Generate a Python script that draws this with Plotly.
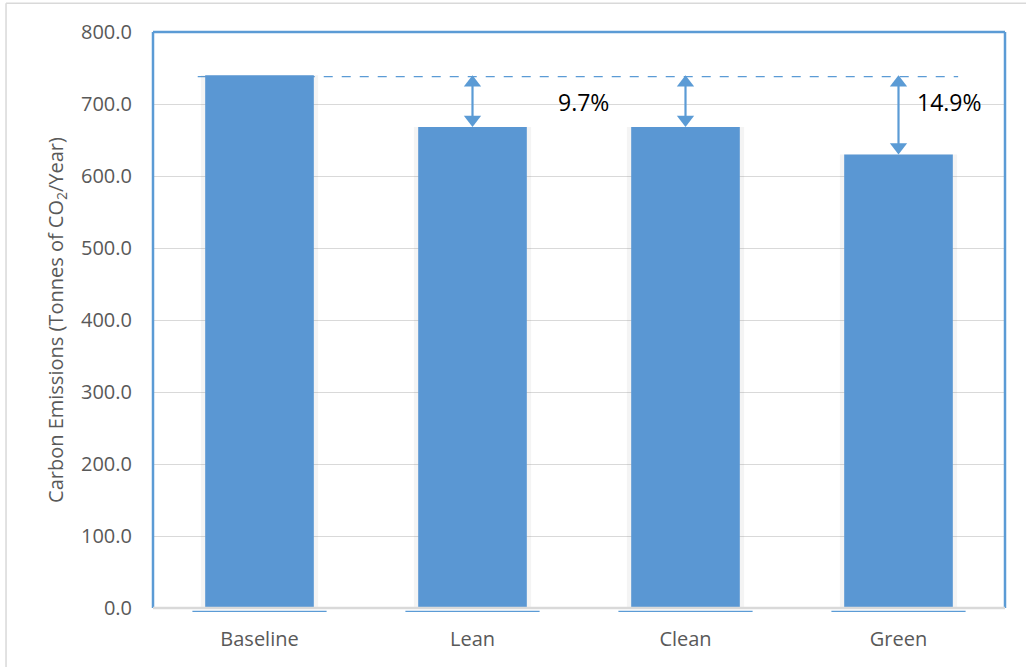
import plotly.graph_objects as go

# Annual carbon emissions per scenario
scenarios = ["Baseline", "Lean", "Clean", "Green"]
emissions = [740.0, 668.0, 668.0, 630.0]

# Scenarios that get a reduction arrow, and those that also get a % label
arrow_scenarios = ["Lean", "Clean", "Green"]
labelled_scenarios = ["Lean", "Green"]

y_ticks = [0, 100, 200, 300, 400, 500, 600, 700, 800]
y_tick_text = [f"{v:.1f}" for v in y_ticks]

BLUE = "#5B9BD5"
BAR = "#5A97D3"
GREY_TXT = "#595959"
GRID = "#D9D9D9"
FONT = "Open Sans"

baseline = emissions[0]

# pixel-to-data scale of the value axis (576 px for 800 units)
PX = 800 / 576
HEAD = 15            # arrow-head marker size (px)
HEAD_R = HEAD / 2    # distance from triangle centre to its tip (px)

fig = go.Figure()

# soft shadow behind each bar
fig.add_trace(go.Bar(
    x=scenarios, y=emissions, width=0.55,
    marker=dict(color="rgba(120,120,120,0.08)", line=dict(width=0)),
    hoverinfo="skip", showlegend=False,
))
fig.add_trace(go.Bar(
    x=scenarios, y=emissions, width=0.51,
    marker=dict(color=BAR, line=dict(width=0)),
    showlegend=False,
))

# double-headed reduction arrows between the baseline level and each bar
for name in arrow_scenarios:
    val = emissions[scenarios.index(name)]
    fig.add_trace(go.Scatter(
        x=[name, name], y=[val + HEAD_R * PX, baseline - HEAD_R * PX],
        mode="lines", line=dict(color=BLUE, width=2.2),
        hoverinfo="skip", showlegend=False, cliponaxis=False,
    ))
    fig.add_trace(go.Scatter(
        x=[name, name], y=[baseline - HEAD_R * PX, val + HEAD_R * PX],
        mode="markers",
        marker=dict(symbol=["triangle-up", "triangle-down"], size=HEAD,
                    color=BLUE, line=dict(width=0)),
        hoverinfo="skip", showlegend=False, cliponaxis=False,
    ))

shapes = []
# plot-area frame: blue on left, top and right
for x0, y0, x1, y1 in [(0, 0, 0, 1), (0, 1, 1, 1), (1, 0, 1, 1)]:
    shapes.append(dict(type="line", xref="paper", yref="paper",
                       x0=x0, y0=y0, x1=x1, y1=y1,
                       line=dict(color=BLUE, width=2.5), layer="above"))
# category axis line
shapes.append(dict(type="line", xref="paper", yref="paper",
                   x0=0, y0=0, x1=1, y1=0,
                   line=dict(color=GRID, width=2.5), layer="above"))
# thin blue edge under each bar
for i in range(len(scenarios)):
    shapes.append(dict(type="line", xref="x", yref="paper",
                       x0=i - 0.315, x1=i + 0.315, y0=-0.006, y1=-0.006,
                       line=dict(color=BLUE, width=1.2)))
# dashed reference line at the baseline level
shapes.append(dict(type="line", xref="x", yref="y",
                   x0=-0.29, x1=3.28, y0=baseline - 2, y1=baseline - 2,
                   line=dict(color=BLUE, width=1.2, dash="dash"), layer="below"))
# outer chart frame (left and top)
shapes.append(dict(type="line", xref="paper", yref="paper",
                   x0=-0.1725, x1=1.03, y0=1.05, y1=1.05,
                   line=dict(color="#D9D9D9", width=1.5)))
shapes.append(dict(type="line", xref="paper", yref="paper",
                   x0=-0.1725, x1=-0.1725, y0=1.05, y1=-0.11,
                   line=dict(color="#D9D9D9", width=1.5)))

annotations = []
label_offsets = {"Lean": 0.52, "Green": 0.24}
for name in labelled_scenarios:
    i = scenarios.index(name)
    pct = (baseline - emissions[i]) / baseline * 100
    annotations.append(dict(
        x=i + label_offsets[name], y=703, xref="x", yref="y",
        text=f"{pct:.1f}%", showarrow=False,
        font=dict(family=FONT, size=23, color="#000000"),
    ))

fig.update_layout(
    width=1026, height=667,
    margin=dict(l=153, r=21, t=32, b=59),
    paper_bgcolor="white", plot_bgcolor="white",
    barmode="overlay",
    font=dict(family=FONT, color=GREY_TXT),
    shapes=shapes, annotations=annotations,
    showlegend=False,
)
fig.update_xaxes(
    type="category", range=[-0.5, 3.5],
    showgrid=False, showline=False, zeroline=False,
    tickfont=dict(family=FONT, size=20, color=GREY_TXT),
    ticks="", ticklabelstandoff=17,
)
fig.update_yaxes(
    range=[0, 800], tickvals=y_ticks, ticktext=y_tick_text,
    showgrid=True, gridcolor=GRID, gridwidth=1.2,
    zeroline=False, showline=False, ticks="",
    tickfont=dict(family=FONT, size=20, color=GREY_TXT),
    ticklabelstandoff=20,
    title=dict(text="Carbon Emissions (Tonnes of CO<sub>2</sub>/Year)",
               font=dict(family=FONT, size=20, color=GREY_TXT), standoff=12),
)

fig.write_html("out.html")
